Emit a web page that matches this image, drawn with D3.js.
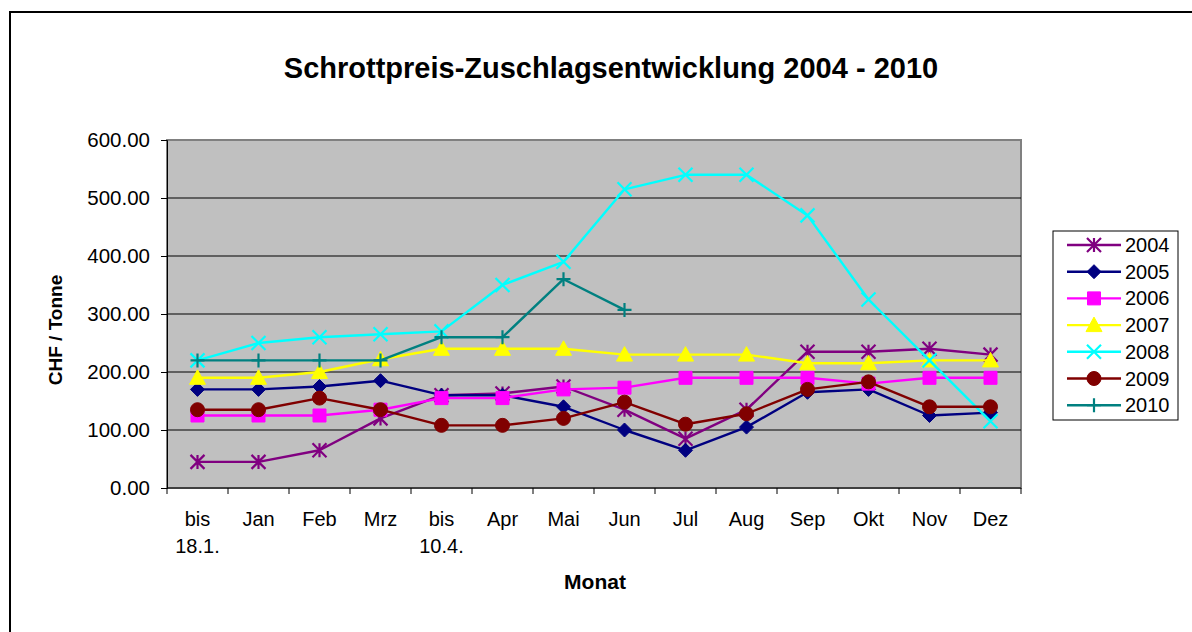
<!DOCTYPE html>
<html><head><meta charset="utf-8">
<script src="https://cdn.jsdelivr.net/npm/d3@7"></script>
<style>
html,body{margin:0;padding:0;background:#fff;}
svg{display:block;font-family:"Liberation Sans",Arial,sans-serif;}
</style></head>
<body><svg id="c" width="1192" height="632"></svg>
<script>
const categories = [["bis","18.1."],["Jan"],["Feb"],["Mrz"],["bis","10.4."],["Apr"],["Mai"],["Jun"],["Jul"],["Aug"],["Sep"],["Okt"],["Nov"],["Dez"]];
const yTicks = [0,100,200,300,400,500,600];
const seriesNames = ["2004","2005","2006","2007","2008","2009","2010"];
const v2004 = [45,45,65,120,160,163,175,135,85,135,235,235,240,230];
const v2005 = [170,170,175,185,160,160,140,100,65,105,165,170,125,130];
const v2006 = [125,125,125,135,155,155,170,173,190,190,190,180,190,190];
const v2007 = [190,190,200,222,240,240,240,230,230,230,215,215,220,220];
const v2008 = [220,250,260,265,270,350,390,515,540,540,470,325,220,115];
const v2009 = [135,135,155,135,108,108,120,148,110,128,170,183,140,140];
const v2010 = [220,220,220,220,260,260,360,307];
const seriesValues = [v2004,v2005,v2006,v2007,v2008,v2009,v2010];
const colors = ["#800080","#000080","#FF00FF","#FFFF00","#00FFFF","#800000","#008080"];
const markers = ["asterisk","diamond","square","triangle","x","circle","plus"];

const svg = d3.select("#c");
const L=167,R=1021,T=140,B=488;
const keys = categories.map((c,i)=>i);
const x = d3.scaleBand().domain(keys).range([L,R]).padding(0);
const y = d3.scaleLinear().domain([0,600]).range([B,T]);

// outer chart border
svg.append("rect").attr("x",10).attr("y",12).attr("width",1200).attr("height",640)
  .attr("fill","#fff").attr("stroke","#000").attr("stroke-width",2);

// plot area
svg.append("rect").attr("x",L).attr("y",T).attr("width",R-L).attr("height",B-T)
  .attr("fill","#C0C0C0").attr("stroke","#808080").attr("stroke-width",2);

// gridlines
svg.append("g").selectAll("line").data(yTicks.filter(t=>t>0&&t<600)).join("line")
  .attr("x1",L).attr("x2",R).attr("y1",d=>y(d)).attr("y2",d=>y(d))
  .attr("stroke","#000").attr("stroke-width",1);

// y axis
const yAxis = d3.axisLeft(y).tickValues(yTicks).tickSize(6).tickPadding(11).tickFormat(d3.format(".2f"));
const gy = svg.append("g").attr("transform",`translate(${L},0)`).call(yAxis);
gy.select(".domain").attr("stroke","#000").attr("stroke-width",1);
gy.selectAll(".tick line").attr("stroke","#000");
gy.selectAll("text").attr("font-size",20.5).attr("fill","#000").attr("font-family","Liberation Sans, Arial, sans-serif");

// x axis line + ticks at band boundaries
svg.append("line").attr("x1",L).attr("x2",R).attr("y1",B).attr("y2",B).attr("stroke","#000");
const bounds = keys.map(k=>x(k)).concat([x(keys[keys.length-1])+x.bandwidth()]);
svg.append("g").selectAll("line").data(bounds).join("line")
  .attr("x1",d=>d).attr("x2",d=>d).attr("y1",B).attr("y2",B+6).attr("stroke","#000");
const xl = svg.append("g").selectAll("text").data(categories).join("text")
  .attr("x",(d,i)=>x(i)+x.bandwidth()/2).attr("y",526)
  .attr("text-anchor","middle").attr("font-size",20).attr("fill","#000");
xl.each(function(d){
  const t=d3.select(this);
  d.forEach((s,j)=>t.append("tspan").attr("x",t.attr("x")).attr("dy",j===0?0:27).text(s));
});

// titles
svg.append("text").attr("x",611).attr("y",78).attr("text-anchor","middle")
  .attr("font-size",29).attr("font-weight","bold").text("Schrottpreis-Zuschlagsentwicklung 2004 - 2010");
svg.append("text").attr("x",595).attr("y",589).attr("text-anchor","middle")
  .attr("font-size",21).attr("font-weight","bold").text("Monat");
svg.append("text").attr("transform","translate(62,330) rotate(-90)").attr("text-anchor","middle")
  .attr("font-size",19).attr("font-weight","bold").text("CHF / Tonne");

function markerPath(type){
  const s=7;
  switch(type){
    case "asterisk": return `M${-s},${-s}L${s},${s}M${-s},${s}L${s},${-s}M0,${-s}L0,${s}`;
    case "diamond": return `M0,${-7}L7,0L0,7L-7,0Z`;
    case "square": return `M-6.5,-6.5H6.5V6.5H-6.5Z`;
    case "triangle": return `M0,-8L8,6.5L-8,6.5Z`;
    case "x": return `M${-s},${-s}L${s},${s}M${-s},${s}L${s},${-s}`;
    case "circle": return d3.symbol(d3.symbolCircle, Math.PI*49)();
    case "plus": return `M${-s},0L${s},0M0,${-s}L0,${s}`;
  }
}
const stroked = t => ["asterisk","x","plus"].includes(t);
function drawMarker(g,type,col,cx,cy){
  const p=g.append("path").attr("d",markerPath(type)).attr("transform",`translate(${cx},${cy})`);
  if(stroked(type)) p.attr("fill","none").attr("stroke",col).attr("stroke-width",2.2);
  else p.attr("fill",col).attr("stroke",col).attr("stroke-width",1);
}

const line = d3.line().x((d,i)=>x(i)+x.bandwidth()/2).y(d=>y(d));
seriesValues.forEach((vals,si)=>{
  const g=svg.append("g");
  g.append("path").datum(vals).attr("d",line).attr("fill","none")
    .attr("stroke",colors[si]).attr("stroke-width",2.4).attr("stroke-linejoin","round");
  vals.forEach((v,i)=>drawMarker(g,markers[si],colors[si],x(i)+x.bandwidth()/2,y(v)));
});

// legend
const lg = svg.append("g");
lg.append("rect").attr("x",1053).attr("y",231).attr("width",125).attr("height",189)
  .attr("fill","#fff").attr("stroke","#000").attr("stroke-width",1);
seriesNames.forEach((n,i)=>{
  const yy=245+i*26.7;
  lg.append("line").attr("x1",1067).attr("x2",1121).attr("y1",yy).attr("y2",yy)
    .attr("stroke",colors[i]).attr("stroke-width",2.4);
  drawMarker(lg,markers[i],colors[i],1094,yy);
  lg.append("text").attr("x",1125).attr("y",yy+7).attr("font-size",20).text(n);
});
</script></body></html>
